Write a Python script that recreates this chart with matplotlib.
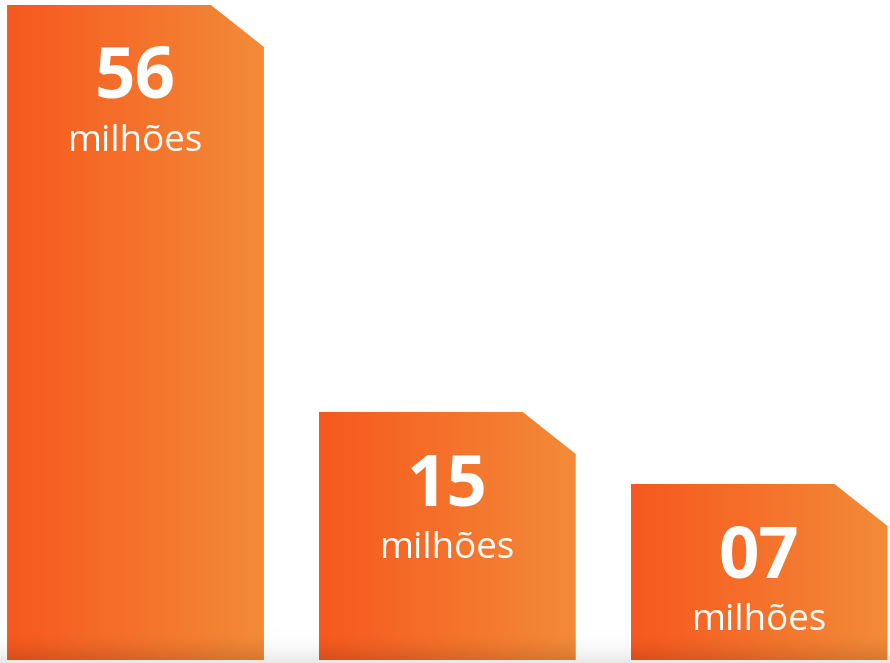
import numpy as np
import matplotlib
matplotlib.use("Agg")
import matplotlib.pyplot as plt
from matplotlib.patches import Polygon

# ---- data ----
categories = ["A", "B", "C"]
value_labels = ["56", "15", "07"]
unit_label = "milhões"
bar_heights = [655, 248, 176]   # displayed bar heights

# ---- style ----
left_col = np.array([247, 88, 30]) / 255
right_col = np.array([243, 139, 56]) / 255
bar_width = 0.824
cut_x = 0.17
cut_y = 42

fig = plt.figure(figsize=(8.9, 6.63), dpi=100)
ax = fig.add_axes([0, 0, 1, 1])
ax.set_xlim(-0.4346, 2.42)
ax.set_ylim(-3, 660)
ax.axis("off")

# background light gray fade at bottom
ny = 64
bg = np.ones((ny, 2, 3))
ys = np.linspace(30, -3, ny)
f = np.clip((30 - ys) / 33, 0, 1) ** 2
bg *= (1 - 0.09 * f)[:, None, None]
ax.imshow(bg, extent=[-0.4346, 2.42, -3, 30], aspect="auto", zorder=0,
          interpolation="bilinear")

xs = np.arange(len(categories))
bars = ax.bar(xs, bar_heights, width=bar_width, color="none", zorder=1)

for rect, h, lab in zip(bars, bar_heights, value_labels):
    x0 = rect.get_x()
    x1 = x0 + rect.get_width()
    poly = Polygon([(x0, 0), (x0, h), (x1 - cut_x, h), (x1, h - cut_y), (x1, 0)],
                   closed=True, facecolor="none", edgecolor="none")
    ax.add_patch(poly)
    nx, nyy = 256, 256
    t = np.linspace(0, 1, nx)
    row = left_col[None, :] * (1 - t[:, None]) + right_col[None, :] * t[:, None]
    yv = np.linspace(h, 0, nyy)
    dark = 1 - 0.12 * np.clip((26 - yv) / 26, 0, 1) ** 1.5
    img = row[None, :, :] * dark[:, None, None]
    im = ax.imshow(img, extent=[x0, x1, 0, h], aspect="auto", zorder=2,
                   interpolation="bilinear")
    im.set_clip_path(poly)
    cx = rect.get_x() + rect.get_width() / 2
    ax.text(cx, h - 93, lab, ha="center", va="baseline", color="white",
            fontsize=51, fontweight="bold", family="Open Sans", zorder=3)
    ax.text(cx, h - 146, unit_label, ha="center", va="baseline", color="white",
            fontsize=26.5, family="Open Sans", zorder=3)

fig.savefig("out.png", dpi=100)
